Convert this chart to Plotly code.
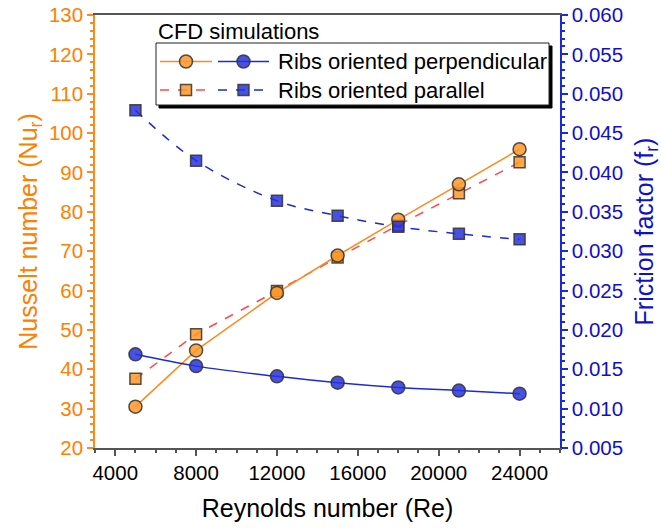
import plotly.graph_objects as go

# Reynolds numbers of the CFD runs
reynolds = [5000, 8000, 12000, 15000, 18000, 21000, 24000]

# Nusselt number (left axis)
nu_perpendicular = [30.5, 44.8, 59.4, 68.9, 78.0, 87.0, 95.9]
nu_parallel = [37.6, 48.9, 59.9, 68.4, 76.6, 84.7, 92.6]

# Friction factor (right axis)
f_perpendicular = [0.0169, 0.0154, 0.0141, 0.0133, 0.0127, 0.0123, 0.0119]
f_parallel = [0.0479, 0.0415, 0.0364, 0.0345, 0.0331, 0.0322, 0.0315]

legend_labels = ["Ribs oriented perpendicular", "Ribs oriented parallel"]
legend_title = "CFD simulations"

ORANGE_TXT = "#ff8000"
BLUE_TXT = "#1010c8"
ORANGE_LINE = "#ff8a1c"
RED_DASH = "#ff4a4a"
BLUE_LINE = "#1a2ad8"
ORANGE_FILL = "rgba(255,152,40,0.85)"
BLUE_FILL = "rgba(40,50,220,0.85)"
EDGE = dict(color="rgba(50,50,50,0.85)", width=1.5)
FONT = "Liberation Sans, Arial, Helvetica, sans-serif"
TICK_SIZE = 20.5
TITLE_SIZE = 25

W, H = 662, 530
L, R, T, B = 95, 102, 15, 82
PW, PH = W - L - R, H - T - B

fig = go.Figure()

fig.add_trace(go.Scatter(
    x=reynolds, y=nu_parallel, mode="lines+markers",
    line=dict(color=RED_DASH, width=1.5, dash="dash"),
    marker=dict(symbol="square", size=11, color=ORANGE_FILL, line=EDGE),
    showlegend=False))
fig.add_trace(go.Scatter(
    x=reynolds, y=nu_perpendicular, mode="lines+markers",
    line=dict(color=ORANGE_LINE, width=1.5),
    marker=dict(symbol="circle", size=13, color=ORANGE_FILL, line=EDGE),
    showlegend=False))
fig.add_trace(go.Scatter(
    x=reynolds, y=f_parallel, mode="lines+markers", yaxis="y2",
    line=dict(color=BLUE_LINE, width=1.5, dash="dash", shape="spline"),
    marker=dict(symbol="square", size=11, color=BLUE_FILL, line=EDGE),
    showlegend=False))
fig.add_trace(go.Scatter(
    x=reynolds, y=f_perpendicular, mode="lines+markers", yaxis="y2",
    line=dict(color=BLUE_LINE, width=1.5, shape="spline"),
    marker=dict(symbol="circle", size=13, color=BLUE_FILL, line=EDGE),
    showlegend=False))

# Legend glyphs drawn on a pixel-scaled overlay axis pair
box_x0, box_x1, box_y0, box_y1 = 61, 454, 28, 90
rows = [46.5, 75]
fig.add_shape(type="rect", xref="x2", yref="y3",
              x0=box_x0 + 3, x1=box_x1 + 3, y0=box_y0 + 3, y1=box_y1 + 3,
              line=dict(color="black", width=1), fillcolor="black", layer="below")
fig.add_shape(type="rect", xref="x2", yref="y3",
              x0=box_x0, x1=box_x1, y0=box_y0, y1=box_y1,
              line=dict(color="#222", width=1), fillcolor="white", layer="below")

glyphs = [
    (rows[0], 65, 117, ORANGE_LINE, "solid", "circle", 13, ORANGE_FILL),
    (rows[0], 123, 174, BLUE_LINE, "solid", "circle", 13, BLUE_FILL),
    (rows[1], 65, 117, RED_DASH, "dash", "square", 11, ORANGE_FILL),
    (rows[1], 123, 174, BLUE_LINE, "dash", "square", 11, BLUE_FILL),
]
for yy, xa, xb, lc, ds, sym, sz, fc in glyphs:
    fig.add_trace(go.Scatter(
        x=[xa, xb], y=[yy, yy], mode="lines", xaxis="x2", yaxis="y3",
        line=dict(color=lc, width=1.5, dash=ds), showlegend=False,
        hoverinfo="skip"))
    fig.add_trace(go.Scatter(
        x=[(xa + xb) / 2], y=[yy], mode="markers", xaxis="x2", yaxis="y3",
        marker=dict(symbol=sym, size=sz, color=fc, line=EDGE),
        showlegend=False, hoverinfo="skip"))

for yy, txt in zip(rows, legend_labels):
    fig.add_annotation(x=181, y=yy, xref="x2", yref="y3", text=txt,
                       showarrow=False, xanchor="left", yanchor="middle",
                       font=dict(family=FONT, size=22, color="black"))
fig.add_annotation(x=61, y=16, xref="x2", yref="y3", text=legend_title,
                   showarrow=False, xanchor="left", yanchor="middle",
                   font=dict(family=FONT, size=22, color="black"))

fig.update_layout(
    width=W, height=H,
    margin=dict(l=L, r=R, t=T, b=B, autoexpand=False),
    paper_bgcolor="white", plot_bgcolor="white",
    font=dict(family=FONT),
    xaxis=dict(
        range=[3000, 26000], tick0=4000, dtick=4000, tickformat="d",
        automargin=False,
        showgrid=False, zeroline=False,
        showline=True, linecolor="#555", linewidth=1.5, mirror=True,
        ticks="outside", ticklen=6, tickcolor="#555", tickwidth=1.5,
        minor=dict(dtick=1000, tick0=3000, ticks="outside", ticklen=3,
                   tickcolor="#555", showgrid=False),
        tickfont=dict(size=TICK_SIZE, color="black"),
        title=dict(text="Reynolds number (Re)", standoff=16,
                   font=dict(size=TITLE_SIZE, color="black")),
    ),
    yaxis=dict(
        range=[20, 130], dtick=10, tick0=20, automargin=False,
        showgrid=False, zeroline=False,
        showline=True, linecolor=ORANGE_LINE, linewidth=1.5,
        ticks="outside", ticklen=6, tickcolor=ORANGE_LINE, tickwidth=1.5,
        minor=dict(dtick=2, ticks="outside", ticklen=3,
                   tickcolor=ORANGE_LINE, showgrid=False),
        tickfont=dict(size=TICK_SIZE, color=ORANGE_TXT),
        title=dict(text="Nusselt number (Nu<sub>r</sub>)", standoff=4,
                   font=dict(size=TITLE_SIZE, color=ORANGE_TXT)),
    ),
    yaxis2=dict(
        range=[0.005, 0.060], dtick=0.005, tick0=0.005, tickformat=".3f",
        overlaying="y", side="right", anchor="x", automargin=False,
        showgrid=False, zeroline=False,
        showline=True, linecolor=BLUE_LINE, linewidth=1.5,
        ticks="outside", ticklen=6, tickcolor=BLUE_LINE, tickwidth=1.5,
        minor=dict(dtick=0.001, ticks="outside", ticklen=3,
                   tickcolor=BLUE_LINE, showgrid=False),
        tickfont=dict(size=TICK_SIZE, color=BLUE_TXT),
        title=dict(text="Friction factor (f<sub>r</sub>)", standoff=16,
                   font=dict(size=TITLE_SIZE, color=BLUE_TXT)),
    ),
    xaxis2=dict(range=[0, PW], visible=False, overlaying="x",
                anchor="y3", fixedrange=True, automargin=False),
    yaxis3=dict(range=[PH, 0], visible=False, overlaying="y",
                anchor="x2", fixedrange=True, automargin=False),
)

fig.write_html("out.html")
